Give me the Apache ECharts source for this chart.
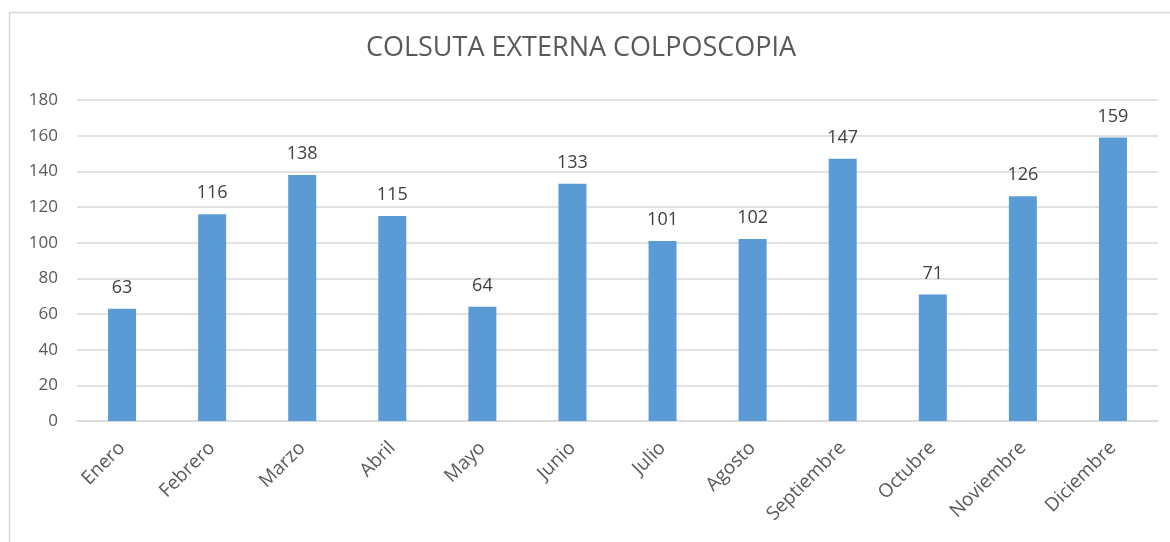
<!DOCTYPE html>
<html>
<head>
<meta charset="utf-8">
<script src="https://cdn.jsdelivr.net/npm/echarts@6/dist/echarts.min.js"></script>
<style>
html,body{margin:0;padding:0;background:#fff;}
#c{width:1170px;height:542px;}
</style>
</head>
<body>
<div id="c"></div>
<script>
const titleText = "COLSUTA EXTERNA COLPOSCOPIA";
const categories = ["Enero","Febrero","Marzo","Abril","Mayo","Junio","Julio","Agosto","Septiembre","Octubre","Noviembre","Diciembre"];
const values = [63,116,138,115,64,133,101,102,147,71,126,159];
const yTicks = [0,20,40,60,80,100,120,140,160,180];

const chart = echarts.init(document.getElementById('c'), null, {renderer:'canvas'});
const font = '"Open Sans", "Liberation Sans", sans-serif';
chart.setOption({
  animation:false,
  backgroundColor:'#fff',
  graphic:[{
    type:'rect', left:7, top:10, shape:{width:1180, height:560},
    style:{fill:'none', stroke:'#D9D9D9', lineWidth:1.5}, z:-1
  }],
  title:{
    text:titleText, left:576, top:30, textAlign:'center',
    textStyle:{fontFamily:font, fontSize:27, fontWeight:'normal', color:'#595959'}
  },
  grid:{left:77, right:12, top:100, bottom:121, containLabel:false},
  xAxis:{
    type:'category', data:categories,
    axisLine:{lineStyle:{color:'#D9D9D9', width:1.5}},
    axisTick:{show:false},
    axisLabel:{rotate:45, margin:24, fontFamily:font, fontSize:19, color:'#595959', interval:0}
  },
  yAxis:{
    type:'value', min:yTicks[0], max:yTicks[yTicks.length-1], interval:20,
    axisLine:{show:false}, axisTick:{show:false},
    splitLine:{lineStyle:{color:'#D9D9D9', width:1.5}},
    axisLabel:{margin:19, fontFamily:font, fontSize:17, color:'#595959'}
  },
  series:[{
    type:'bar', data:values, barWidth:28,
    itemStyle:{color:'#5B9BD5'},
    label:{show:true, position:'top', distance:12, fontFamily:font, fontSize:18, color:'#404040'}
  }]
});
</script>
</body>
</html>
